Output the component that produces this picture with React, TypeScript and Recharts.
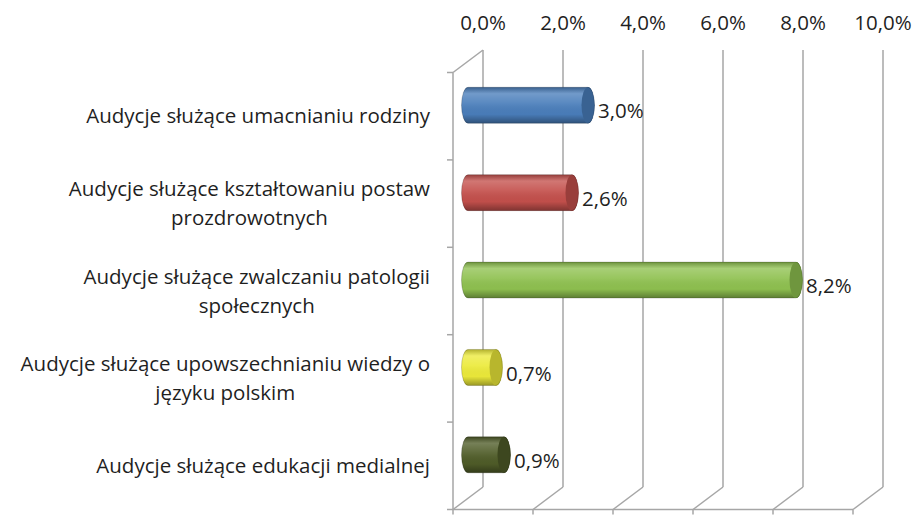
import { BarChart, Bar, XAxis, YAxis, CartesianGrid, LabelList } from "recharts";

const categories = [
  "Audycje służące umacnianiu rodziny",
  "Audycje służące kształtowaniu postaw\nprozdrowotnych",
  "Audycje służące zwalczaniu patologii\nspołecznych",
  "Audycje służące upowszechnianiu wiedzy o\njęzyku polskim",
  "Audycje służące edukacji medialnej",
];
const values = [3.0, 2.6, 8.2, 0.7, 0.9];
const xTicks = [0, 2, 4, 6, 8, 10];
const barColors = ["#4a7ebb", "#c4504c", "#8fc150", "#ecea3a", "#4f5c28"];

const data = categories.map((name, i) => ({ name, value: values[i] }));

const W = 916;
const H = 515;
const FONT = "'Open Sans', sans-serif";
const FONT_SIZE = 20.5;
const DX = 30; // depth offset of the 3D box
const DY = 22.5;
const MARGIN = { top: 20, right: 33, bottom: 28, left: 0 };
const PLOT_RIGHT = W - MARGIN.right;
const PLOT_BOTTOM = H - MARGIN.bottom;
const BAND = (PLOT_BOTTOM - 50) / categories.length;
const GRID = "#a6a6a6";
const TEXT = "#1f1f1f";

const fmt = (v: number) => v.toFixed(1).replace(".", ",") + "%";

let ctx: CanvasRenderingContext2D | null = null;
const measure = (s: string) => {
  if (!ctx) ctx = document.createElement("canvas").getContext("2d");
  if (!ctx) return s.length * FONT_SIZE * 0.5;
  ctx.font = `${FONT_SIZE}px ${FONT}`;
  return ctx.measureText(s).width;
};

const CategoryTick = (props: any) => {
  const { x, y, payload, index } = props;
  const lines = String(payload.value).split("\n");
  const maxW = Math.max(...lines.map(measure));
  const cx = x - 53 - maxW / 2;
  const cy = y + DY;
  const fx = x - DX;
  return (
    <g>
      {lines.map((l, i) => (
        <text
          key={i}
          x={cx}
          y={cy + (i - (lines.length - 1) / 2) * 29}
          dy="0.35em"
          textAnchor="middle"
          fill={TEXT}
          fontSize={FONT_SIZE}
          fontFamily={FONT}
        >
          {l}
        </text>
      ))}
      <line x1={fx - 6} x2={fx} y1={cy - BAND / 2} y2={cy - BAND / 2} stroke={GRID} strokeWidth={1.5} />
      {index === categories.length - 1 && (
        <line x1={fx - 6} x2={fx} y1={cy + BAND / 2} y2={cy + BAND / 2} stroke={GRID} strokeWidth={1.5} />
      )}
    </g>
  );
};

const ValueTick = (props: any) => {
  const { x, y, payload } = props;
  return (
    <text
      x={x}
      y={y - 27}
      dy="0.35em"
      textAnchor="middle"
      fill={TEXT}
      fontSize={FONT_SIZE}
      fontFamily={FONT}
    >
      {fmt(payload.value)}
    </text>
  );
};

const gridLine = (props: any) => {
  const { x1, y1, y2, index } = props;
  const fx = x1 - DX;
  return (
    <g key={`v-${index}`} stroke={GRID} strokeWidth={1.5} fill="none">
      <line x1={x1} x2={x1} y1={y1} y2={y2} />
      <line x1={x1} y1={y2} x2={fx} y2={y2 + DY} />
      <line x1={fx} x2={fx} y1={y2 + DY} y2={y2 + DY + 5} />
      {index === 0 && (
        <>
          <line x1={x1} y1={y1} x2={fx} y2={y1 + DY} />
          <line x1={fx} x2={fx} y1={y1 + DY} y2={y2 + DY} />
          <line x1={fx} x2={PLOT_RIGHT - DX} y1={y2 + DY} y2={y2 + DY} />
        </>
      )}
    </g>
  );
};

const Cylinder = (props: any) => {
  const { x, y, width, height, index } = props;
  const color = barColors[index];
  const x0 = x - DX / 2;
  const x1 = x0 + width;
  const t = y + DY / 2;
  const b = t + height;
  const ry = height / 2;
  const rx = 6.5;
  const body = `M${x0},${t} L${x1},${t} A${rx},${ry} 0 0 1 ${x1},${b} L${x0},${b} A${rx},${ry} 0 0 1 ${x0},${t} Z`;
  return (
    <g>
      <path d={body} fill={color} />
      <path d={body} fill="url(#shine)" />
      <ellipse cx={x1} cy={t + ry} rx={rx} ry={ry} fill={color} />
      <ellipse cx={x1} cy={t + ry} rx={rx} ry={ry} fill="#000" fillOpacity={0.22} />
      <path d={body} fill="none" stroke="#000" strokeOpacity={0.18} strokeWidth={1} />
    </g>
  );
};

const ValueLabel = (props: any) => {
  const { x, y, width, height, value } = props;
  return (
    <text
      x={x + width - DX / 2 + 10}
      y={y + height / 2 + DY / 2 + 6}
      dy="0.35em"
      fill={TEXT}
      fontSize={FONT_SIZE}
      fontFamily={FONT}
    >
      {fmt(value)}
    </text>
  );
};

export default function App() {
  return (
    <div style={{ width: W, height: H, background: "#fff" }}>
      <style>{`body{margin:0}`}</style>
      <BarChart width={W} height={H} data={data} layout="vertical" margin={MARGIN} barSize={36}>
        <defs>
          <linearGradient id="shine" x1="0" y1="0" x2="0" y2="1">
            <stop offset="0%" stopColor="#000" stopOpacity={0.25} />
            <stop offset="18%" stopColor="#fff" stopOpacity={0.22} />
            <stop offset="45%" stopColor="#fff" stopOpacity={0.08} />
            <stop offset="75%" stopColor="#000" stopOpacity={0.02} />
            <stop offset="100%" stopColor="#000" stopOpacity={0.35} />
          </linearGradient>
        </defs>
        <CartesianGrid horizontal={false} vertical={gridLine} />
        <XAxis
          type="number"
          orientation="top"
          domain={[0, 10]}
          ticks={xTicks}
          height={30}
          axisLine={false}
          tickLine={false}
          tickSize={0}
          tickMargin={0}
          tick={ValueTick}
          interval={0}
        />
        <YAxis
          type="category"
          dataKey="name"
          width={483}
          axisLine={false}
          tickLine={false}
          tickSize={0}
          tickMargin={0}
          tick={CategoryTick}
          interval={0}
        />
        <Bar dataKey="value" shape={Cylinder} isAnimationActive={false}>
          <LabelList dataKey="value" content={ValueLabel} />
        </Bar>
      </BarChart>
    </div>
  );
}
